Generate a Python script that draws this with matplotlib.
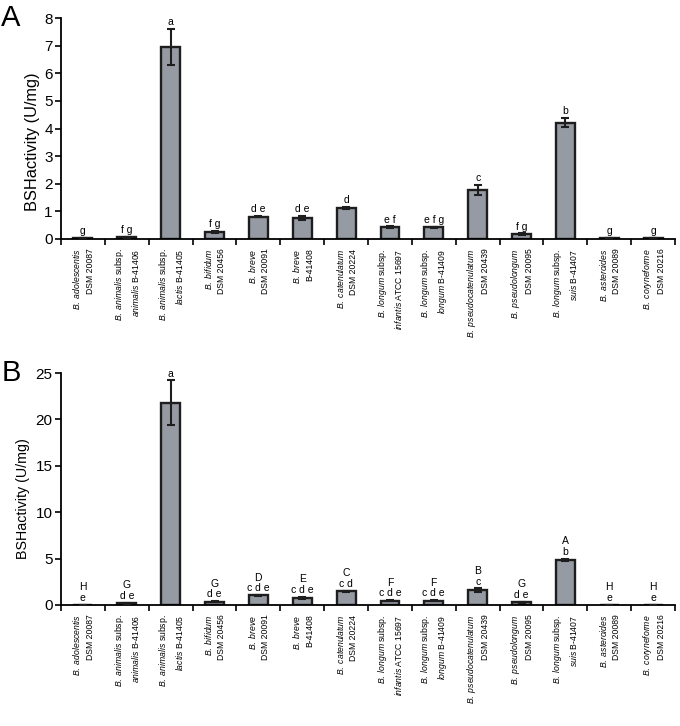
import numpy as np
import matplotlib
matplotlib.use('Agg')
from matplotlib import pyplot as plt

plt.rcParams['font.family'] = ['Liberation Sans', 'DejaVu Sans']
plt.rcParams['mathtext.fontset'] = 'custom'
plt.rcParams['mathtext.rm'] = 'Liberation Sans'
plt.rcParams['mathtext.it'] = 'Liberation Sans:italic'

# strain labels: (italic part line 1, roman part line 1, italic part line 2, roman part line 2)
strains = [
    ('B. adolescentis', '', '', 'DSM 20087'),
    ('B. animalis', 'subsp.', 'animalis', 'B-41406'),
    ('B. animalis', 'subsp.', 'lactis', 'B-41405'),
    ('B. bifidum', '', '', 'DSM 20456'),
    ('B. breve', '', '', 'DSM 20091'),
    ('B. breve', '', '', 'B-41408'),
    ('B. catenulatum', '', '', 'DSM 20224'),
    ('B. longum', 'subsp.', 'infantis', 'ATCC 15697'),
    ('B. longum', 'subsp.', 'longum', 'B-41409'),
    ('B. pseudocatenulatum', '', '', 'DSM 20439'),
    ('B. pseudolongum', '', '', 'DSM 20095'),
    ('B. longum', 'subsp.', 'suis', 'B-41407'),
    ('B. asteroides', '', '', 'DSM 20089'),
    ('B. coryneforme', '', '', 'DSM 20216'),
]

# panel A
vals_a = [0.03, 0.07, 6.96, 0.26, 0.81, 0.76, 1.13, 0.43, 0.43, 1.78, 0.17, 4.22, 0.03, 0.03]
err_a = [0.0, 0.02, 0.66, 0.04, 0.03, 0.08, 0.04, 0.03, 0.02, 0.17, 0.03, 0.18, 0.0, 0.0]
letters_a = ['g', 'f g', 'a', 'f g', 'd e', 'd e', 'd', 'e f', 'e f g', 'c', 'f g', 'b', 'g', 'g']

# panel B
vals_b = [0.03, 0.2, 21.8, 0.36, 1.04, 0.79, 1.47, 0.47, 0.47, 1.58, 0.3, 4.88, 0.03, 0.03]
err_b = [0.0, 0.05, 2.4, 0.05, 0.05, 0.1, 0.08, 0.04, 0.04, 0.2, 0.06, 0.12, 0.0, 0.0]
upper_b = ['H', 'G', '', 'G', 'D', 'E', 'C', 'F', 'F', 'B', 'G', 'A', 'H', 'H']
lower_b = ['e', 'd e', 'a', 'd e', 'c d e', 'c d e', 'c d', 'c d e', 'c d e', 'c', 'd e', 'b', 'e', 'e']


def mt(s, italic):
    if not s:
        return ''
    s = s.replace(' ', r'\ ')
    return r'$\mathit{%s}$' % s if italic else r'$\mathrm{%s}$' % s


def make_label(st):
    it1, rm1, it2, rm2 = st
    l1 = mt(it1, True) + (' ' + rm1 if rm1 else '')
    l2 = (mt(it2, True) + ' ' if it2 else '') + rm2
    return l1 + '\n' + l2


labels = [make_label(s) for s in strains]
x = np.arange(len(strains))


def draw_panel(ax, vals, errs, ymax, step, panel, texts, ylab_size, ylab_x, ylab_y):
    ax.bar(x, vals, width=0.43, color='#959aa3', edgecolor='#1e1e1e', linewidth=1.7, zorder=2)
    ax.errorbar(x, vals, yerr=errs, fmt='none', ecolor='#1e1e1e', elinewidth=1.5, capsize=3, capthick=1.5, zorder=3)
    ax.set_xlim(-0.5, len(x) - 0.5)
    ax.set_ylim(0, ymax)
    ax.set_yticks(np.arange(0, ymax + 0.1, step))
    ax.tick_params(axis='y', labelsize=11, length=4, width=1.2, pad=2)
    ax.set_xticks(x)
    ax.set_xticklabels(labels, rotation=90, fontsize=6.2, ha='center', va='top', multialignment='right', linespacing=1.45)
    ax.tick_params(axis='x', which='major', length=0, pad=7)
    ax.set_xticks(np.arange(-0.5, len(x)), minor=True)
    ax.tick_params(axis='x', which='minor', length=4, width=1.2)
    for s in ['top', 'right']:
        ax.spines[s].set_visible(False)
    for s in ['left', 'bottom']:
        ax.spines[s].set_linewidth(1.3)
    ax.set_ylabel('BSHactivity (U/mg)', fontsize=ylab_size)
    ax.yaxis.set_label_coords(ylab_x, ylab_y)
    ax.text(-0.097, 1.0, panel, transform=ax.transAxes, fontsize=21, va='center', ha='left')
    for i, t in enumerate(texts):
        ax.text(x[i], vals[i] + errs[i] + ymax * 0.008, t, ha='center', va='bottom', fontsize=7.5, linespacing=1.05)


fig = plt.figure(figsize=(6.8, 7.26), dpi=100)
ax_a = fig.add_axes([0.0897, 0.6708, 0.903, 0.3042])
ax_b = fig.add_axes([0.0897, 0.1667, 0.903, 0.3195])

draw_panel(ax_a, vals_a, err_a, 8, 1, 'A', letters_a, 11.8, -0.034, 0.44)
texts_b = [(u + '\n' + l) if u else l for u, l in zip(upper_b, lower_b)]
draw_panel(ax_b, vals_b, err_b, 25, 5, 'B', texts_b, 10.3, -0.05, 0.457)

fig.savefig('out.png', dpi=100)
